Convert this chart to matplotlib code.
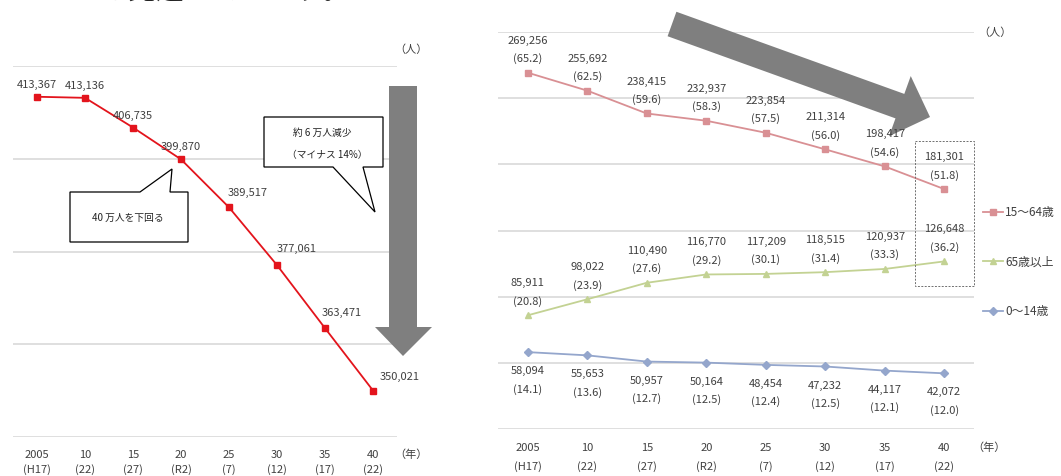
import matplotlib
matplotlib.use("Agg")
import matplotlib.pyplot as plt
from matplotlib.patches import Polygon, Rectangle

plt.rcParams["font.family"] = ["Noto Sans CJK JP", "DejaVu Sans"]

W, H, DPI = 1061, 477, 100

# data
years_top = ["2005", "10", "15", "20", "25", "30", "35", "40"]
years_sub = ["(H17)", "(22)", "(27)", "(R2)", "(7)", "(12)", "(17)", "(22)"]
total_pop = [413367, 413136, 406735, 399870, 389517, 377061, 363471, 350021]
pop_15_64 = [269256, 255692, 238415, 232937, 223854, 211314, 198417, 181301]
pct_15_64 = [65.2, 62.5, 59.6, 58.3, 57.5, 56.0, 54.6, 51.8]
pop_65 = [85911, 98022, 110490, 116770, 117209, 118515, 120937, 126648]
pct_65 = [20.8, 23.9, 27.6, 29.2, 30.1, 31.4, 33.3, 36.2]
pop_0_14 = [58094, 55653, 50957, 50164, 48454, 47232, 44117, 42072]
pct_0_14 = [14.1, 13.6, 12.7, 12.5, 12.4, 12.5, 12.1, 12.0]
series_names = ["15～64歳", "65歳以上", "0～14歳"]

TXT = "#404040"
GRID = "#d9d9d9"
RED = "#e3141c"
C_WORK = "#d99094"
C_OLD = "#c3d293"
C_CHILD = "#94a6cc"
GRAY = "#7f7f7f"


def px_axes(fig, x0, y0, x1, y1):
    # axes placed by pixel box (top-left origin)
    return fig.add_axes([x0 / W, 1 - y1 / H, (x1 - x0) / W, (y1 - y0) / H])


def style_axes(ax, ymin, ymax, step):
    ax.set_xlim(-0.5, 7.5)
    ax.set_ylim(ymin, ymax)
    ax.set_yticks(range(ymin, ymax + 1, step))
    ax.yaxis.grid(True, color=GRID, lw=1.2)
    ax.set_axisbelow(True)
    ax.tick_params(left=False, bottom=False, labelleft=False)
    for s in ax.spines.values():
        s.set_visible(False)
    ax.set_xticks(range(len(years_top)))
    ax.set_xticklabels([])


fig = plt.figure(figsize=(W / DPI, H / DPI), dpi=DPI)

# ---- left chart: total population ----
axl = px_axes(fig, 13, 67, 397, 438)
style_axes(axl, 340000, 420000, 20000)
x = list(range(len(total_pop)))
axl.plot(x, total_pop, color=RED, lw=1.3, marker="s", ms=5, zorder=3)
left_off = [(0, -13, "center"), (0, -13, "center"), (0, -13, "center"), (0, -13, "center"),
            (-1, -15, "left"), (0, -17, "left"), (-3, -16, "left"), (7, -15, "left")]
for i, v in enumerate(total_pop):
    dx, dy, ha = left_off[i]
    axl.annotate(f"{v:,}", (i, v), xytext=(dx, -dy), textcoords="offset pixels",
                 ha=ha, va="center", fontsize=8, color=TXT)
for i in x:
    axl.annotate(years_top[i], (i, 340000), xytext=(0, -17), textcoords="offset pixels",
                 ha="center", va="center", fontsize=8, color=TXT)
    axl.annotate(years_sub[i], (i, 340000), xytext=(0, -32), textcoords="offset pixels",
                 ha="center", va="center", fontsize=8, color=TXT)

# ---- right chart: by age group ----
axr = px_axes(fig, 498, 33, 974, 430)
style_axes(axr, 0, 300000, 50000)
axr.plot(x, pop_15_64, color=C_WORK, lw=1.3, marker="s", ms=5, zorder=3)
axr.plot(x, pop_65, color=C_OLD, lw=1.3, marker="^", ms=5, zorder=3)
axr.plot(x, pop_0_14, color=C_CHILD, lw=1.3, marker="D", ms=4, zorder=3)
for vals, pcts, d1, d2 in [(pop_15_64, pct_15_64, -33, -15), (pop_65, pct_65, -33, -15),
                           (pop_0_14, pct_0_14, 18, 36)]:
    for i, v in enumerate(vals):
        axr.annotate(f"{v:,}", (i, v), xytext=(0, -d1), textcoords="offset pixels",
                     ha="center", va="center", fontsize=8, color=TXT, zorder=4)
        axr.annotate(f"({pcts[i]:.1f})", (i, v), xytext=(0, -d2), textcoords="offset pixels",
                     ha="center", va="center", fontsize=8, color=TXT, zorder=4)
for i in x:
    axr.annotate(years_top[i], (i, 0), xytext=(0, -18), textcoords="offset pixels",
                 ha="center", va="center", fontsize=8, color=TXT)
    axr.annotate(years_sub[i], (i, 0), xytext=(0, -37), textcoords="offset pixels",
                 ha="center", va="center", fontsize=8, color=TXT)

# ---- overlay in pixel coordinates ----
ov = fig.add_axes([0, 0, 1, 1], zorder=5)
ov.set_xlim(0, W)
ov.set_ylim(H, 0)
ov.axis("off")
ov.patch.set_alpha(0)

# big diagonal arrow: drawn inside the right axes (over grid, under labels)
sx, sy, tx, ty = 672, 25, 930, 118
dx, dy = tx - sx, ty - sy
ln = (dx ** 2 + dy ** 2) ** 0.5
ux, uy = dx / ln, dy / ln
nx, ny = -uy, ux
hw, hh, hl = 13, 32, 32
bx, by = tx - hl * ux, ty - hl * uy
axr.add_patch(Polygon([(sx + hw * nx, sy + hw * ny), (bx + hw * nx, by + hw * ny),
                       (bx + hh * nx, by + hh * ny), (tx, ty), (bx - hh * nx, by - hh * ny),
                       (bx - hw * nx, by - hw * ny), (sx - hw * nx, sy - hw * ny)],
                      closed=True, fc=GRAY, ec="none", transform=ov.transData,
                      clip_on=False, zorder=2.5))

# cut-off sentence at the very top (only its lower edge is on the page)
ov.text(45, 0, "ことを見込んでいます。", fontsize=20, color="#222222", ha="left", va="baseline")

ov.text(411, 50, "（人）", fontsize=8, color=TXT, ha="center", va="center")
ov.text(411, 455, "（年）", fontsize=8, color=TXT, ha="center", va="center")
ov.text(995, 33, "（人）", fontsize=8, color=TXT, ha="center", va="center")
ov.text(989, 448, "（年）", fontsize=8, color=TXT, ha="center", va="center")

# callouts
ov.add_patch(Polygon([(70, 193), (140, 193), (172, 170), (170, 193), (188, 193), (188, 243), (70, 243)],
                     closed=True, fc="white", ec="black", lw=0.9))
ov.text(128, 218, "40 万人を下回る", fontsize=7, color="#222222", ha="center", va="center")
ov.add_patch(Polygon([(264, 118), (383, 118), (383, 168), (363, 168), (375, 213), (333, 168), (264, 168)],
                     closed=True, fc="white", ec="black", lw=0.9))
ov.text(322, 133, "約 6 万人減少", fontsize=7, color="#222222", ha="center", va="center")
ov.text(327, 155, "（マイナス 14%）", fontsize=7, color="#222222", ha="center", va="center")

# big vertical arrow
ov.add_patch(Polygon([(389, 87), (417, 87), (417, 328), (432, 328), (403, 357), (375, 328), (389, 328)],
                     closed=True, fc=GRAY, ec="none"))

# dashed box around final year
ov.add_patch(Rectangle((915, 142), 59, 145, fc="none", ec="#6f6f6f", lw=0.7, ls=(0, (2, 1.5))))

# legend
for (name, col, mk, ms), ly in zip([(series_names[0], C_WORK, "s", 5), (series_names[1], C_OLD, "^", 5),
                                     (series_names[2], C_CHILD, "D", 4)], [213, 262, 312]):
    ov.plot([983, 1003], [ly, ly], color=col, lw=1.3)
    ov.plot([993], [ly], color=col, marker=mk, ms=ms)
    ov.text(1005, ly, name, fontsize=8.5, color=TXT, ha="left", va="center")

fig.savefig("out.png", dpi=DPI, facecolor="white")
